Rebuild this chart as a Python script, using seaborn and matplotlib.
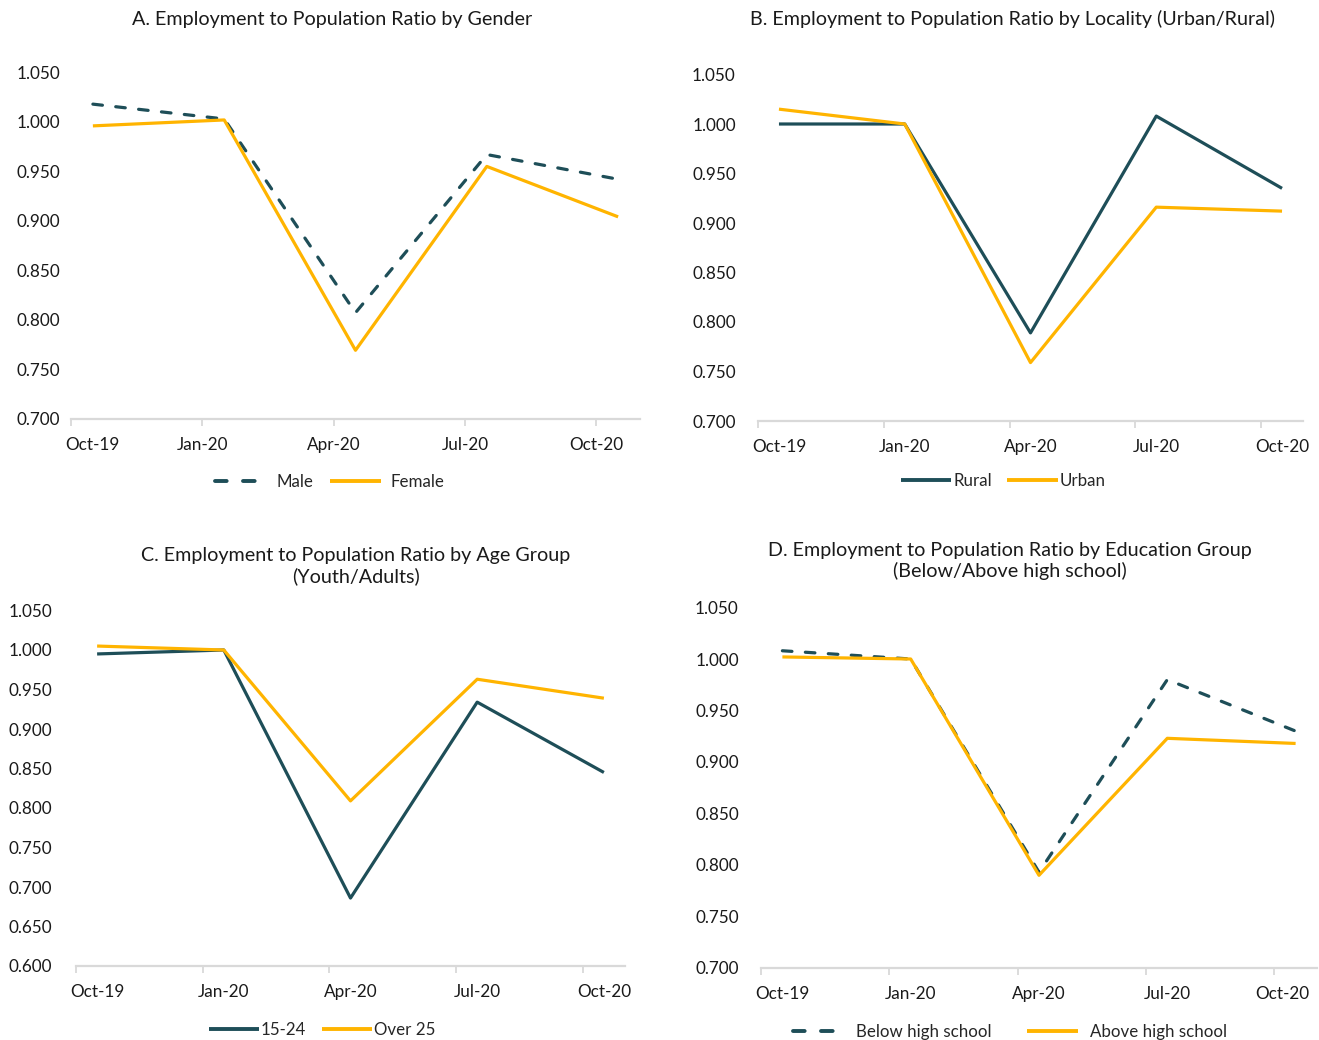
import pandas as pd
import seaborn as sns
import matplotlib.pyplot as plt

# quarterly observations, plotted on a monthly category axis (Oct-19 .. Oct-20)
quarters = ["Oct-19", "Jan-20", "Apr-20", "Jul-20", "Oct-20"]

male = [1.018, 1.003, 0.807, 0.967, 0.942]
female = [0.996, 1.002, 0.769, 0.955, 0.904]
rural = [1.000, 1.000, 0.789, 1.008, 0.935]
urban = [1.015, 1.000, 0.759, 0.916, 0.912]
youth = [0.995, 1.000, 0.686, 0.934, 0.845]
adults = [1.005, 1.000, 0.809, 0.963, 0.939]
below_hs = [1.008, 1.000, 0.793, 0.980, 0.930]
above_hs = [1.002, 1.000, 0.790, 0.923, 0.918]

TEAL = "#1E4E58"
GOLD = "#FFB400"
AXIS_GREY = "#D9D9D9"
W, H = 1319, 1040

sns.set_theme(style="white")
plt.rcParams["font.family"] = ["Lato", "DejaVu Sans"]

fig = plt.figure(figsize=(W / 100, H / 100), dpi=100)


def px_axes(x0, x1, ytop, ybot):
    return fig.add_axes([x0 / W, 1 - ybot / H, (x1 - x0) / W, (ybot - ytop) / H])


panels = [
    dict(rect=(71, 640, 72.5, 418.5), ymin=0.70, pad=8,
         title="A. Employment to Population Ratio by Gender", title_xy=(332, 19),
         series=[("Male", male, TEAL, True), ("Female", female, GOLD, False)],
         label_x=[0.5, 3, 6, 9, 12], leg_xy=(330, 482), textpad=0.6, colsp=1.0),
    dict(rect=(758, 1303, 74.5, 421), ymin=0.70, pad=16,
         title="B. Employment to Population Ratio by Locality (Urban/Rural)", title_xy=(1012, 19),
         series=[("Rural", rural, TEAL, False), ("Urban", urban, GOLD, False)],
         label_x=[0.5, 3.5, 6.5, 9.5, 12.5], leg_xy=(1003, 481), textpad=0.1, colsp=0.9),
    dict(rect=(76, 625, 610.5, 966), ymin=0.60, pad=17,
         title="C. Employment to Population Ratio by Age Group\n(Youth/Adults)", title_xy=(356, 566),
         series=[("15-24", youth, TEAL, False), ("Over 25", adults, GOLD, False)],
         label_x=[0.5, 3.5, 6.5, 9.5, 12.5], leg_xy=(322, 1030), textpad=0.1, colsp=0.9),
    dict(rect=(761, 1317, 607.5, 968), ymin=0.70, pad=16,
         title="D. Employment to Population Ratio by Education Group\n(Below/Above high school)", title_xy=(1010, 561),
         series=[("Below high school", below_hs, TEAL, True), ("Above high school", above_hs, GOLD, False)],
         label_x=[0.5, 3.5, 6.5, 9.5, 12.2], leg_xy=(1010, 1032), textpad=0.7, colsp=2.1),
]

for p in panels:
    ax = px_axes(*p["rect"])
    rows = []
    for name, vals, _, _ in p["series"]:
        for i, v in enumerate(vals):
            rows.append({"month": 3 * i + 0.5, "ratio": v, "group": name})
    df = pd.DataFrame(rows)
    names = [s[0] for s in p["series"]]
    palette = {s[0]: s[2] for s in p["series"]}
    dashes = {s[0]: ((3, 4.2) if s[3] else "") for s in p["series"]}

    sns.lineplot(data=df, x="month", y="ratio", hue="group", style="group",
                 hue_order=names, style_order=names, palette=palette, dashes=dashes,
                 lw=2.3, ax=ax, legend=True)
    for line in ax.lines:
        line.set_dash_capstyle("round")
        line.set_solid_capstyle("butt")

    ax.set_xlim(0, 13)
    ax.set_ylim(p["ymin"], 1.05)
    yt = [round(p["ymin"] + 0.05 * k, 3) for k in range(int(round((1.05 - p["ymin"]) / 0.05)) + 1)]
    ax.set_yticks(yt)
    ax.set_yticklabels([f"{v:.3f}" for v in yt], fontsize=12.3, color="#1a1a1a")
    ax.tick_params(axis="y", left=False, length=0, pad=p["pad"])

    # tick marks every quarter boundary, labels placed separately
    ax.xaxis.remove_overlapping_locs = False
    ax.set_xticks([0, 3, 6, 9, 12])
    ax.set_xticklabels([])
    ax.tick_params(axis="x", which="major", bottom=True, length=5, width=1.3,
                   color=AXIS_GREY, direction="out")
    ax.set_xticks(p["label_x"], minor=True)
    ax.set_xticklabels(quarters, minor=True, fontsize=12.3, color="#1a1a1a")
    ax.tick_params(axis="x", which="minor", bottom=True, length=0, pad=13)
    ax.set_xlabel("")
    ax.set_ylabel("")

    for side in ["left", "right", "top"]:
        ax.spines[side].set_visible(False)
    ax.spines["bottom"].set_color(AXIS_GREY)
    ax.spines["bottom"].set_linewidth(1.6)

    handles, labels = ax.get_legend_handles_labels()
    for h in handles:
        h.set_linewidth(2.8)
        h.set_dash_capstyle("round")
    ax.legend(handles, labels, loc="center", ncol=2, frameon=False, fontsize=12.2,
              bbox_to_anchor=(p["leg_xy"][0] / W, 1 - p["leg_xy"][1] / H),
              bbox_transform=fig.transFigure, handlelength=3.0,
              handletextpad=p["textpad"], columnspacing=p["colsp"])

    fig.text(p["title_xy"][0] / W, 1 - p["title_xy"][1] / H, p["title"],
             ha="center", va="center", fontsize=14.2, color="#1a1a1a", linespacing=1.25)

fig.savefig("out.png", dpi=100)
